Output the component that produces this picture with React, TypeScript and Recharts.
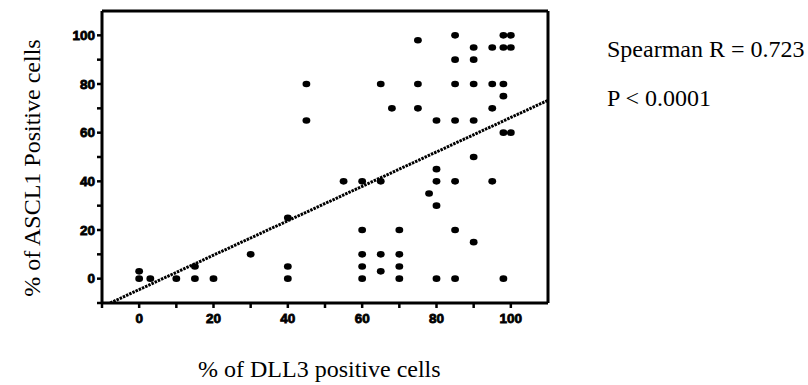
import React from "react";
import {
  ScatterChart,
  Scatter,
  XAxis,
  YAxis,
  ReferenceLine,
} from "recharts";

// % of DLL3 positive cells (x) and % of ASCL1 positive cells (y), one entry per case
const dllValues = [
  0, 0, 3, 10, 15, 15, 20, 30, 40, 40, 40, 45, 45, 55,
  60, 60, 60, 60, 60, 65, 65, 65, 65, 68, 70, 70, 70, 70,
  75, 75, 75, 78, 80, 80, 80, 80, 80,
  85, 85, 85, 85, 85, 85, 85, 90, 90, 90, 90, 90, 90,
  95, 95, 95, 95, 98, 98, 98, 98, 98, 98, 100, 100, 100,
];
const asclValues = [
  3, 0, 0, 0, 5, 0, 0, 10, 25, 5, 0, 80, 65, 40,
  40, 20, 10, 5, 0, 80, 40, 10, 3, 70, 20, 10, 5, 0,
  98, 80, 70, 35, 65, 45, 40, 30, 0,
  100, 90, 80, 65, 40, 20, 0, 95, 90, 80, 65, 50, 15,
  95, 80, 70, 40, 100, 95, 80, 75, 60, 0, 100, 95, 60,
];

// end points of the fitted line
const fitX = [-7.8, 110];
const fitY = [-10, 73.3];

const axisTicks = [-10, 0, 10, 20, 30, 40, 50, 60, 70, 80, 90, 100];

const points = dllValues.map((x, i) => ({ x, y: asclValues[i] }));
const fitLine = fitX.map((x, i) => ({ x, y: fitY[i] }));

const serif = "'Liberation Serif', 'Times New Roman', serif";
const tickStyle = {
  fill: "#000",
  stroke: "#000",
  strokeWidth: 0.8,
  fontSize: 13.5,
  fontWeight: 700,
  fontFamily: "'Liberation Sans', Arial, sans-serif",
};

const label = (v: number) => (v >= 0 && v % 20 === 0 ? String(v) : "");

function Dot(props: any) {
  return <ellipse cx={props.cx} cy={props.cy} rx={3.9} ry={3.3} fill="#000" />;
}

export default function App() {
  return (
    <div style={{ position: "absolute", left: 0, top: 0, width: 808, height: 385, background: "#fff" }}>
      <ScatterChart
        width={808}
        height={385}
        margin={{ top: 11, right: 260, bottom: 52, left: 42 }}
      >
        <XAxis
          type="number"
          dataKey="x"
          domain={[-10, 110]}
          ticks={axisTicks}
          tickFormatter={label}
          allowDataOverflow
          height={30}
          tickSize={5}
          tickMargin={5}
          tick={tickStyle}
          axisLine={{ stroke: "#000", strokeWidth: 3 }}
          tickLine={{ stroke: "#000", strokeWidth: 2.5 }}
        />
        <YAxis
          type="number"
          dataKey="y"
          domain={[-10, 110]}
          ticks={axisTicks}
          tickFormatter={label}
          allowDataOverflow
          width={60}
          tickSize={5}
          tickMargin={2}
          tick={tickStyle}
          axisLine={{ stroke: "#000", strokeWidth: 3 }}
          tickLine={{ stroke: "#000", strokeWidth: 2.5 }}
        />
        <ReferenceLine y={110} stroke="#000" strokeWidth={3} />
        <ReferenceLine x={110} stroke="#000" strokeWidth={3} />
        <Scatter
          data={fitLine}
          line={{ stroke: "#000", strokeWidth: 3, strokeDasharray: "2.5 1" }}
          shape={() => <g />}
          isAnimationActive={false}
        />
        <Scatter data={points} shape={Dot} isAnimationActive={false} />
      </ScatterChart>
      <svg
        width={808}
        height={385}
        style={{ position: "absolute", left: 0, top: 0, pointerEvents: "none" }}
      >
        <g fontFamily={serif} fontSize={24} fill="#000">
          <text x={607} y={57}>Spearman R = 0.723</text>
          <text x={607} y={106}>P &lt; 0.0001</text>
          <text x={198} y={377}>% of DLL3 positive cells</text>
          <text x={40} y={168} textAnchor="middle" transform="rotate(-90, 40, 168)">
            % of ASCL1 Positive cells
          </text>
        </g>
      </svg>
    </div>
  );
}
